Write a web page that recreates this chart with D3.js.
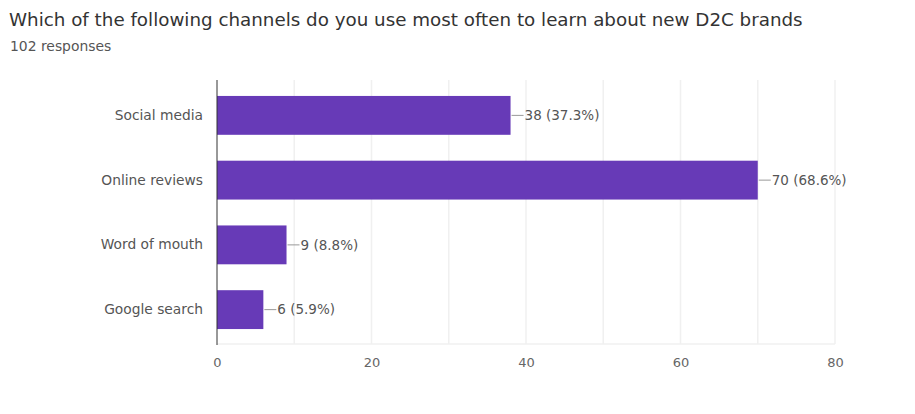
<!DOCTYPE html>
<html>
<head>
<meta charset="utf-8">
<script src="https://cdn.jsdelivr.net/npm/d3@7"></script>
<style>
  html, body { margin: 0; padding: 0; background: #fff; }
  svg { display: block; font-family: "DejaVu Sans", sans-serif; }
</style>
</head>
<body>
<svg id="chart" width="915" height="414"></svg>
<script>
const titleText = "Which of the following channels do you use most often to learn about new D2C brands";
const subtitleText = "102 responses";
const categories = ["Social media", "Online reviews", "Word of mouth", "Google search"];
const counts = [38, 70, 9, 6];
const percents = ["37.3%", "68.6%", "8.8%", "5.9%"];
const tickValues = [0, 20, 40, 60, 80];
const gridValues = [0, 10, 20, 30, 40, 50, 60, 70, 80];

const FONT = "'DejaVu Sans', sans-serif";
const svg = d3.select("#chart");

svg.append("text").attr("x", 9).attr("y", 26)
  .attr("font-size", 18.3).attr("fill", "#333").text(titleText);
svg.append("text").attr("x", 10).attr("y", 51)
  .attr("font-size", 13.9).attr("fill", "#555").text(subtitleText);

const plotLeft = 217, plotRight = 835, plotTop = 83, plotBottom = 342;

const x = d3.scaleLinear().domain([0, 80]).range([plotLeft, plotRight]);
const y = d3.scaleBand().domain(categories).range([plotTop, plotBottom]).paddingInner(0.4).paddingOuter(0.2);

// gridlines
svg.append("g").selectAll("line").data(gridValues.slice(1)).join("line")
  .attr("x1", d => x(d)).attr("x2", d => x(d))
  .attr("y1", plotTop - 3).attr("y2", plotBottom + 2)
  .attr("stroke", "#f0f0f0").attr("stroke-width", 1.5);
svg.append("line").attr("x1", plotLeft).attr("x2", plotRight)
  .attr("y1", plotBottom + 2).attr("y2", plotBottom + 2)
  .attr("stroke", "#f0f0f0").attr("stroke-width", 1.5);

// bars
const data = categories.map((c, i) => ({ c, v: counts[i], p: percents[i] }));
svg.append("g").selectAll("rect").data(data).join("rect")
  .attr("x", x(0)).attr("y", d => y(d.c))
  .attr("width", d => x(d.v) - x(0)).attr("height", y.bandwidth())
  .attr("fill", "#673ab7");

// zero axis
svg.append("line").attr("x1", x(0)).attr("x2", x(0))
  .attr("y1", plotTop - 3).attr("y2", plotBottom + 3)
  .attr("stroke", "#333").attr("stroke-width", 1);

// leader lines & value labels
const lab = svg.append("g");
lab.selectAll("line").data(data).join("line")
  .attr("x1", d => x(d.v) + 1).attr("x2", d => x(d.v) + 13)
  .attr("y1", d => y(d.c) + y.bandwidth() / 2).attr("y2", d => y(d.c) + y.bandwidth() / 2)
  .attr("stroke", "#999").attr("stroke-width", 1);
lab.selectAll("text").data(data).join("text")
  .attr("x", d => x(d.v) + 14).attr("y", d => y(d.c) + y.bandwidth() / 2)
  .attr("dy", "0.35em").attr("font-size", 13.5).attr("fill", "#555")
  .text(d => `${d.v} (${d.p})`);

// category labels
const yAxis = d3.axisLeft(y).tickSize(0).tickPadding(14);
const gy = svg.append("g").attr("transform", `translate(${plotLeft},0)`).call(yAxis);
gy.select(".domain").remove();
gy.selectAll("text").attr("font-size", 13.8).attr("fill", "#555").attr("font-family", FONT);

// x axis
const xAxis = d3.axisBottom(x).tickValues(tickValues).tickSize(0).tickPadding(13);
const gx = svg.append("g").attr("transform", `translate(0,${plotBottom + 3})`).call(xAxis);
gx.select(".domain").remove();
gx.selectAll("text").attr("font-size", 13).attr("fill", "#666").attr("font-family", FONT);
</script>
</body>
</html>
